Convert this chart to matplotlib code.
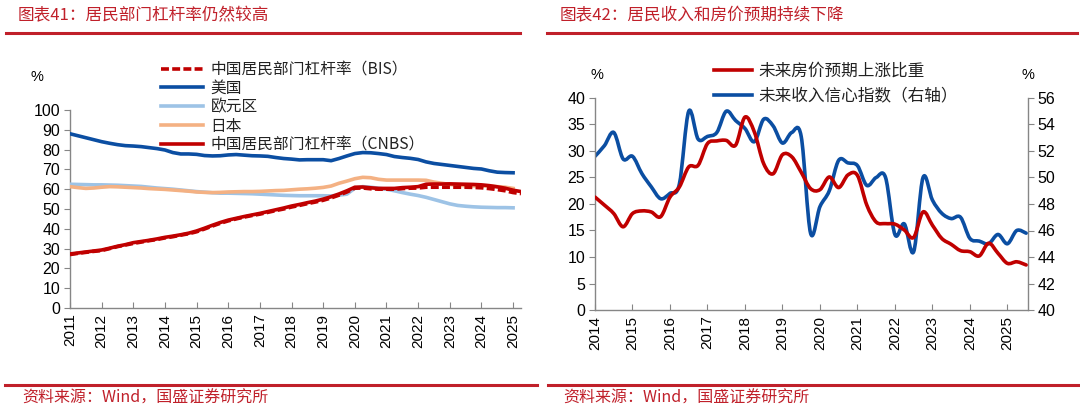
import matplotlib
matplotlib.use("Agg")
import matplotlib.pyplot as plt
from matplotlib.lines import Line2D
from matplotlib.path import Path
from matplotlib.patches import PathPatch
import numpy as np

plt.rcParams['font.family'] = ['Liberation Sans', 'Noto Sans CJK SC', 'DejaVu Sans']
CJK = ['Noto Sans CJK SC', 'DejaVu Sans']

# ---------------- data: chart 41 (quarterly, 2011Q1 onward) ----------------
us = [88.0, 87.0, 86.0, 85.0,
      84.0, 83.2, 82.5, 82.0,
      81.8, 81.5, 81.0, 80.5,
      79.8, 78.5, 77.8, 77.8,
      77.6, 77.0, 76.8, 76.9,
      77.3, 77.5, 77.2, 76.9,
      76.8, 76.6, 76.0, 75.5,
      75.2, 74.8, 74.9, 74.9,
      74.9, 74.4, 75.5, 76.8,
      78.0, 78.5, 78.4, 78.0,
      77.5, 76.5, 76.0, 75.6,
      75.0, 73.8, 73.0, 72.5,
      72.0, 71.5, 71.0, 70.5,
      70.2, 69.3, 68.6, 68.4,
      68.3]
euro = [62.5, 62.4, 62.3, 62.2,
        62.2, 62.1, 62.0, 61.8,
        61.6, 61.4, 61.0, 60.6,
        60.3, 60.0, 59.6, 59.2,
        58.8, 58.5, 58.2, 58.0,
        58.0, 57.9, 57.8, 57.7,
        57.5, 57.3, 57.1, 56.9,
        56.8, 56.7, 56.7, 56.7,
        56.7, 56.6, 57.0, 57.5,
        60.5, 61.3, 61.0, 60.5,
        60.0, 59.2, 58.3, 57.5,
        56.8, 55.9, 54.8, 53.7,
        52.6, 51.8, 51.4, 51.1,
        50.9, 50.8, 50.7, 50.7,
        50.6]
japan = [61.3, 60.8, 60.4, 60.6,
         61.0, 61.3, 61.2, 61.0,
         60.8, 60.6, 60.3, 60.1,
         59.9, 59.6, 59.3, 59.0,
         58.6, 58.4, 58.3, 58.4,
         58.6, 58.7, 58.8, 58.8,
         58.9, 59.1, 59.3, 59.4,
         59.7, 60.0, 60.2, 60.5,
         60.9, 61.6, 63.0, 64.1,
         65.3, 66.0, 65.8, 65.0,
         64.6, 64.6, 64.6, 64.6,
         64.6, 64.5, 63.6, 63.0,
         62.4, 62.0, 61.8, 61.7,
         61.6, 61.6, 61.3, 61.0,
         60.4]
china_cnbs = [27.3, 27.8, 28.3, 28.8,
              29.3, 30.2, 31.2, 32.0,
              33.0, 33.6, 34.2, 34.9,
              35.7, 36.3, 37.0, 37.8,
              38.9, 40.3, 41.8, 43.2,
              44.4, 45.3, 46.2, 47.0,
              47.8, 48.7, 49.6, 50.5,
              51.5, 52.3, 53.2, 54.0,
              55.0, 56.2, 57.6, 59.2,
              61.0, 61.1, 60.7, 60.4,
              60.4, 60.4, 60.8, 61.0,
              61.3, 62.5, 62.6, 62.6,
              62.7, 62.6, 62.5, 62.4,
              62.2, 61.8, 61.2, 60.5,
              59.5, 58.8]
china_bis = [27.0, 27.6, 28.1, 28.6,
             29.0, 30.0, 31.0, 31.8,
             32.6, 33.3, 34.0, 34.6,
             35.4, 36.0, 36.8, 37.5,
             38.5, 39.9, 41.4, 42.8,
             44.0, 45.0, 45.9, 46.7,
             47.4, 48.3, 49.2, 50.0,
             51.0, 51.8, 52.7, 53.5,
             54.4, 55.6, 57.0, 58.6,
             60.5, 60.6, 60.2, 60.0,
             60.0, 60.0, 60.3, 60.5,
             60.6, 61.0, 61.0, 61.0,
             61.0, 61.0, 61.0, 60.9,
             60.7, 60.3, 59.8, 59.2,
             58.3, 57.8]
left_start = 2011
left_years = list(range(2011, 2026))

# ---------------- data: chart 42 (quarterly, 2014Q1 onward) ----------------
house_up = [21.3, 19.8, 18.2, 15.7, 18.2, 18.7, 18.5, 17.6,
            21.3, 23.2, 27.0, 27.3, 31.4, 31.9, 32.0, 31.1,
            36.4, 33.6, 27.6, 25.7, 29.3, 28.9, 26.0, 22.9,
            22.7, 25.1, 23.1, 25.5, 25.4, 19.8, 16.6, 16.3,
            16.2, 15.1, 13.7, 18.5, 16.0, 13.5, 12.4, 11.2,
            11.0, 10.2, 12.6, 10.7, 8.8, 9.1, 8.5]
income_conf = [51.6, 52.4, 53.4, 51.4, 51.6, 50.3, 49.3, 48.4,
               48.8, 49.5, 55.0, 52.9, 53.1, 53.4, 55.0, 54.3,
               53.7, 52.7, 54.4, 53.9, 52.6, 53.4, 53.1, 45.8,
               47.8, 49.0, 51.3, 51.1, 50.9, 49.4, 50.0, 50.0,
               45.7, 46.5, 44.4, 50.0, 48.3, 47.3, 46.9, 47.0,
               45.4, 45.2, 45.0, 45.7, 45.0, 46.0, 45.8]
right_start = 2014
right_years = list(range(2014, 2026))

labels41 = ['中国居民部门杠杆率（BIS）', '美国', '欧元区', '日本', '中国居民部门杠杆率（CNBS）']
labels42 = ['未来房价预期上涨比重', '未来收入信心指数（右轴）']

# ---------------- styling ----------------
RED = '#C00000'
DBLUE = '#0B4EA2'
LBLUE = '#9DC3E6'
ORANGE = '#F4B183'
TITLE_RED = '#C0202A'
SPINE = '#868686'

W, H = 1080, 408
fig = plt.figure(figsize=(W / 100, H / 100), dpi=100)


def fx(px):
    return px / W


def fy(py):
    return 1 - py / H


def qx(start, n):
    return [start + 0.25 * i for i in range(n)]


def smooth_line(ax, x, y, **kw):
    """Draw the series as a smoothed (Excel-style) curve through every data point."""
    x = np.asarray(x, float)
    y = np.asarray(y, float)
    n = len(x)
    verts = [(x[0], y[0])]
    codes = [Path.MOVETO]
    for i in range(n - 1):
        x0, y0 = (x[i - 1], y[i - 1]) if i > 0 else (x[i], y[i])
        x3, y3 = (x[i + 2], y[i + 2]) if i + 2 < n else (x[i + 1], y[i + 1])
        c1 = (x[i] + (x[i + 1] - x0) / 6, y[i] + (y[i + 1] - y0) / 6)
        c2 = (x[i + 1] - (x3 - x[i]) / 6, y[i + 1] - (y3 - y[i]) / 6)
        verts += [c1, c2, (x[i + 1], y[i + 1])]
        codes += [Path.CURVE4] * 3
    patch = PathPatch(Path(verts, codes), fill=False, capstyle='round',
                      joinstyle='round', **kw)
    ax.add_patch(patch)
    return patch


# ---------------- left chart ----------------
ax1 = fig.add_axes([fx(70), fy(308), (521 - 70) / W, (308 - 110) / H])
lw = 2.6
h_bis, = ax1.plot(qx(left_start, len(china_bis)), china_bis, color=RED, lw=lw,
                  dashes=(2.2, 0.9), zorder=6)
h_us, = ax1.plot(qx(left_start, len(us)), us, color=DBLUE, lw=lw, zorder=3)
h_eu, = ax1.plot(qx(left_start, len(euro)), euro, color=LBLUE, lw=lw, zorder=3)
h_jp, = ax1.plot(qx(left_start, len(japan)), japan, color=ORANGE, lw=lw, zorder=4)
h_cn, = ax1.plot(qx(left_start, len(china_cnbs)), china_cnbs, color=RED, lw=lw, zorder=5)
for h in (h_us, h_eu, h_jp, h_cn):
    h.set_solid_joinstyle('round')

ax1.set_xlim(2011, 2025.25)
ax1.set_ylim(0, 100)
ax1.set_yticks(range(0, 101, 10))
ax1.set_xticks(left_years)
ax1.set_xticklabels([str(y) for y in left_years], rotation=90)

leg1 = ax1.legend([h_bis, h_us, h_eu, h_jp, h_cn], labels41,
                  loc='upper left', bbox_to_anchor=(fx(161), fy(61)),
                  bbox_transform=fig.transFigure, frameon=False,
                  handlelength=2.7, handletextpad=0.45, labelspacing=0.12,
                  borderpad=0, borderaxespad=0,
                  prop={'family': CJK, 'size': 11.3})
for t in leg1.get_texts():
    t.set_color('#222222')

# ---------------- right chart ----------------
ax2 = fig.add_axes([fx(595), fy(310), (1028 - 595) / W, (310 - 98) / H])
ax2r = ax2.twinx()
smooth_line(ax2, qx(right_start, len(house_up)), house_up, edgecolor=RED, lw=2.6, zorder=4)
smooth_line(ax2r, qx(right_start, len(income_conf)), income_conf, edgecolor=DBLUE, lw=2.6, zorder=3)
h_house = Line2D([], [], color=RED, lw=2.6)
h_inc = Line2D([], [], color=DBLUE, lw=2.6)
ax2.set_zorder(ax2r.get_zorder() + 1)
ax2.patch.set_visible(False)

ax2.set_xlim(2014, 2025.55)
ax2.set_ylim(0, 40)
ax2.set_yticks(range(0, 41, 5))
ax2r.set_ylim(40, 56)
ax2r.set_yticks(range(40, 57, 2))
ax2.set_xticks(right_years)
ax2.set_xticklabels([str(y) for y in right_years], rotation=90)

leg2 = ax2.legend([h_house, h_inc], labels42,
                  loc='upper left', bbox_to_anchor=(fx(714), fy(63)),
                  bbox_transform=fig.transFigure, frameon=False,
                  handlelength=2.3, handletextpad=0.35, labelspacing=0.45,
                  borderpad=0, borderaxespad=0,
                  prop={'family': CJK, 'size': 12})
for t in leg2.get_texts():
    t.set_color('#222222')

# ---------------- common axis styling ----------------
for ax in (ax1, ax2, ax2r):
    for s in ax.spines.values():
        s.set_color(SPINE)
        s.set_linewidth(1.0)
    ax.spines['top'].set_visible(False)
    ax.tick_params(axis='x', direction='in', length=4, color=SPINE,
                   labelsize=11, pad=4)
    ax.tick_params(axis='y', direction='out', length=4, color=SPINE,
                   labelsize=11.5, pad=3)
ax1.spines['right'].set_visible(False)
ax2.spines['right'].set_visible(False)
ax2r.spines['left'].set_visible(False)
ax2r.spines['bottom'].set_visible(False)

# % unit labels
fig.text(fx(37), fy(77), '%', ha='center', va='center', fontsize=10.5)
fig.text(fx(597), fy(75), '%', ha='center', va='center', fontsize=10.5)
fig.text(fx(1028), fy(75), '%', ha='center', va='center', fontsize=10.5)

# ---------------- titles, rules and sources ----------------
fig.text(fx(18), fy(16), '图表41：居民部门杠杆率仍然较高', color=TITLE_RED,
         fontsize=12, va='center', ha='left', family=CJK, style='italic')
fig.text(fx(560), fy(16), '图表42：居民收入和房价预期持续下降', color=TITLE_RED,
         fontsize=12, va='center', ha='left', family=CJK, style='italic')
for (x0, x1) in ((6, 520), (547, 1077)):
    fig.add_artist(Line2D([fx(x0), fx(x1)], [fy(33), fy(33)], color=TITLE_RED, lw=2.2))
for (x0, x1) in ((5, 537), (548, 1078)):
    fig.add_artist(Line2D([fx(x0), fx(x1)], [fy(385), fy(385)], color=TITLE_RED, lw=2.2))
fig.text(fx(22), fy(398), '资料来源：Wind，国盛证券研究所', color=TITLE_RED,
         fontsize=11.5, va='center', ha='left', family=CJK, style='italic')
fig.text(fx(563), fy(398), '资料来源：Wind，国盛证券研究所', color=TITLE_RED,
         fontsize=11.5, va='center', ha='left', family=CJK, style='italic')

fig.savefig('out.png', dpi=100)
